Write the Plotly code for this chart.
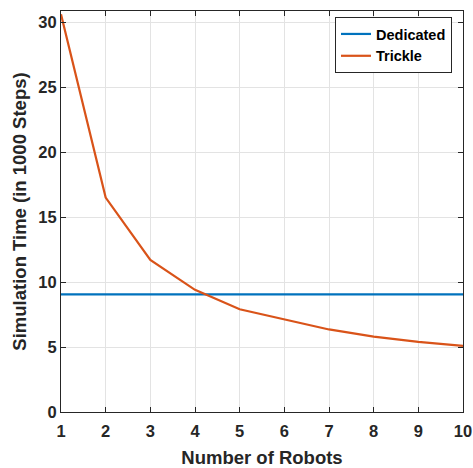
import plotly.graph_objects as go

robots = [1, 2, 3, 4, 5, 6, 7, 8, 9, 10]
dedicated = [9.05] * 10
trickle = [30.6, 16.5, 11.7, 9.4, 7.9, 7.1, 6.35, 5.8, 5.4, 5.08]

x_ticks = list(range(1, 11))
y_ticks = [0, 5, 10, 15, 20, 25, 30]

FONT = "Liberation Sans"
INK = "#262626"

fig = go.Figure()
fig.add_trace(go.Scatter(x=robots, y=dedicated, mode="lines", name="Dedicated",
                         line=dict(color="#0072BD", width=2.2)))
fig.add_trace(go.Scatter(x=robots, y=trickle, mode="lines", name="Trickle",
                         line=dict(color="#D95319", width=2.2)))

axis_common = dict(
    showline=True, linecolor=INK, linewidth=1, mirror="ticks",
    ticks="inside", ticklen=5, tickcolor=INK,
    showgrid=True, gridcolor="#E3E3E3", gridwidth=1,
    zeroline=False, automargin=False,
    tickfont=dict(family=FONT, size=16.5, color=INK, weight="bold"),
)

fig.update_layout(
    width=473, height=468,
    margin=dict(l=61, r=10, t=11, b=56),
    paper_bgcolor="white", plot_bgcolor="white",
    font=dict(family=FONT, color=INK),
    xaxis=dict(range=[1, 10], tickvals=x_ticks, ticklabelstandoff=4,
               title=dict(text="Number of Robots", standoff=12,
                          font=dict(family=FONT, size=18.5, color=INK, weight="bold")),
               **axis_common),
    yaxis=dict(range=[0, 30.85], tickvals=y_ticks,
               title=dict(text="Simulation Time (in 1000 Steps)", standoff=6,
                          font=dict(family=FONT, size=18.5, color=INK, weight="bold")),
               **axis_common),
    legend=dict(x=0.9726, y=0.985, xanchor="right", yanchor="top",
                bgcolor="white", bordercolor=INK, borderwidth=1,
                font=dict(family=FONT, size=14.5, color="black", weight="bold"),
                tracegroupgap=0, itemwidth=30),
    showlegend=True,
)

fig.write_html("out.html", config={"displayModeBar": False},
               post_script="document.body.style.margin='0';")
